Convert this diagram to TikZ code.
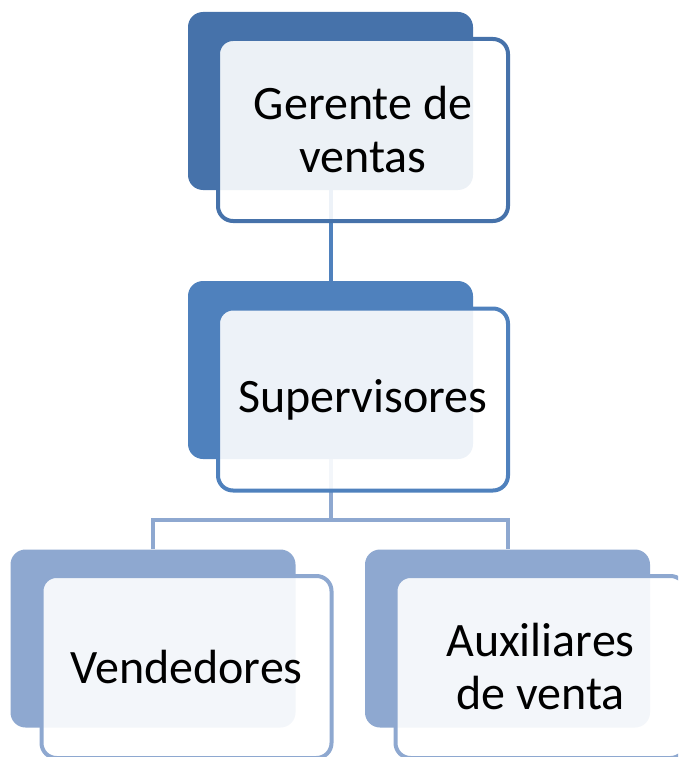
\documentclass[tikz,border=0pt]{standalone}
\usepackage{fontspec}
\setmainfont{Carlito}
\definecolor{cA}{RGB}{70,114,170}
\definecolor{cB}{RGB}{79,129,189}
\definecolor{cC}{RGB}{142,168,208}
\tikzset{
  backbox/.style={rectangle, rounded corners=15pt, draw=none, minimum width=285pt, minimum height=178pt, inner sep=0pt},
  frontbox/.style={rectangle, rounded corners=15pt, line width=4pt, fill=white, fill opacity=0.9, text opacity=1, draw opacity=1,
    minimum width=290pt, minimum height=182pt, inner sep=0pt, align=center, font=\fontsize{48}{53}\selectfont},
  conn/.style={line width=4pt}
}
\begin{document}
\begin{tikzpicture}[x=1pt,y=-1pt]
\clip (0,0) rectangle (678,757);
% back boxes
\node[backbox, fill=cA] (b1) at (330.5,101) {};
\node[backbox, fill=cB] (b2) at (330.5,370) {};
\node[backbox, fill=cC] (b3) at (153,638.5) {};
\node[backbox, fill=cC] (b4) at (507.5,638.5) {};
% connectors
\coordinate (j) at (330.5,520);
\draw[conn, cB] (b1.south) -- (b2.north);
\draw[conn, cC] (b2.south) -- (j);
\draw[conn, cC] (b3.north) |- (j) -| (b4.north);
% front boxes
\node[frontbox, draw=cA] (f1) at (363,130) {Gerente de\\ventas};
\node[frontbox, draw=cB] (f2) at (363,399.5) {Supervisores};
\node[frontbox, draw=cC] (f3) at (186.5,667) {Vendedores};
\node[frontbox, draw=cC] (f4) at (540.5,667) {Auxiliares\\de venta};
\end{tikzpicture}
\end{document}
